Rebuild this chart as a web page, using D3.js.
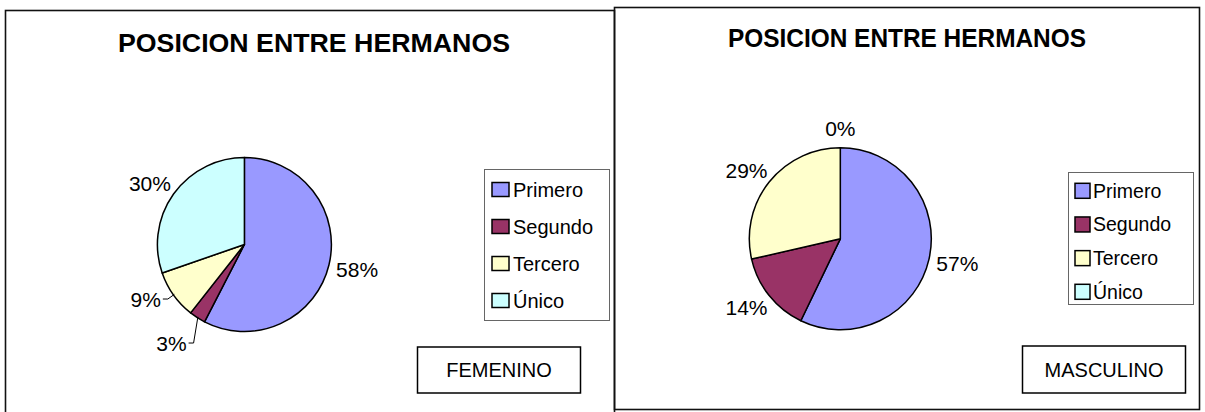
<!DOCTYPE html>
<html>
<head>
<meta charset="utf-8">
<script src="https://cdn.jsdelivr.net/npm/d3@7"></script>
<style>
  body { margin: 0; background: #fff; }
  svg text { font-family: "Liberation Sans", Arial, sans-serif; }
</style>
</head>
<body>
<svg id="chart" width="1205" height="412"></svg>
<script>
// data
var categories = ["Primero", "Segundo", "Tercero", "Único"];
var femeninoValues = [19, 1, 3, 10];
var masculinoValues = [4, 1, 2, 0];
var chartTitle = "POSICION ENTRE HERMANOS";
var groupLabels = ["FEMENINO", "MASCULINO"];
var sliceColors = ["#9999FF", "#993366", "#FFFFCC", "#CCFFFF"];

var svg = d3.select("#chart");

var color = d3.scaleOrdinal().domain(categories).range(sliceColors);

// layout of the two panels
var panels = [
    {values: femeninoValues, label: groupLabels[0],
     frame: {x: 5.5, y: 10.5, w: 609, h: 420},
     title: {x: 314, y: 52, w: 392},
     cx: 244.4, cy: 244.5, r: 87,
     legend: {x: 484.5, y: 169.5, w: 125, h: 151, first: 189.5, last: 300.5, sx: 492, sw: 17, sh: 14, tx: 513, fs: 20},
     box: {x: 417.5, y: 347, w: 163, h: 46}},
    {values: masculinoValues, label: groupLabels[1],
     frame: {x: 614.5, y: 7.5, w: 585, h: 402},
     title: {x: 907, y: 47, w: 358},
     cx: 840.3, cy: 238.8, r: 91,
     legend: {x: 1068.5, y: 172.5, w: 125, h: 132, first: 190.8, last: 291.8, sx: 1075, sw: 15, sh: 15, tx: 1093, fs: 19.5},
     box: {x: 1022.5, y: 346, w: 163, h: 47}}
];

var pie = d3.pie().sort(null).value(function (d) { return d; });

panels.forEach(function (p) {
    var g = svg.append("g");

    g.append("rect")
        .attr("x", p.frame.x).attr("y", p.frame.y)
        .attr("width", p.frame.w).attr("height", p.frame.h)
        .attr("fill", "none").attr("stroke", "#111").attr("stroke-width", 1.6);

    g.append("text")
        .attr("x", p.title.x).attr("y", p.title.y)
        .attr("text-anchor", "middle")
        .attr("font-size", 25).attr("font-weight", "bold")
        .attr("textLength", p.title.w).attr("lengthAdjust", "spacingAndGlyphs")
        .text(chartTitle);

    var total = d3.sum(p.values);
    var arcs = pie(p.values);
    var arc = d3.arc().innerRadius(0).outerRadius(p.r);

    var pg = g.append("g").attr("transform", "translate(" + p.cx + "," + p.cy + ")");

    pg.selectAll("path")
        .data(arcs.filter(function (d) { return d.value > 0; }))
        .enter()
        .append("path")
            .attr("d", arc)
            .attr("fill", function (d) { return color(categories[d.index]); })
            .attr("stroke", "#000")
            .attr("stroke-width", 1.5)
            .attr("stroke-linejoin", "round");

    // percentage labels; small slices get a leader line and are moved down if they collide
    var placedY = [];
    arcs.slice().reverse().forEach(function (d) {
        var pct = d.value / total;
        var a = (d.startAngle + d.endAngle) / 2;
        var s = Math.sin(a), c = Math.cos(a);
        var small = pct > 0 && pct < 0.1;
        var t = pg.append("text")
            .attr("font-size", 21)
            .attr("text-anchor", "middle")
            .text(Math.round(pct * 100) + "%");
        var w = t.node().getComputedTextLength(), h = 22;
        var lx, ly;
        if (small) {
            var e1 = [(p.r - 1) * s, -(p.r - 1) * c];
            var e2 = [(p.r + 7) * s, -(p.r + 7) * c];
            placedY.forEach(function (y) {
                if (Math.abs(e2[1] - y) < 44) e2[1] = y + (c < 0 ? 44 : -44);
            });
            var e3 = [e2[0] + (s < 0 ? -5 : 5), e2[1]];
            pg.append("polyline")
                .attr("points", [e1, e2, e3].map(function (q) { return q.join(","); }).join(" "))
                .attr("fill", "none").attr("stroke", "#000").attr("stroke-width", 1);
            lx = e3[0] + (s < 0 ? -(w / 2 + 2) : (w / 2 + 2));
            ly = e2[1];
            placedY.push(ly);
        } else {
            var R = p.r + 8;
            lx = R * s + s * w / 2;
            ly = -R * c - c * h / 2;
        }
        t.attr("x", lx).attr("y", ly + 7.5);
    });

    // legend
    var L = p.legend;
    g.append("rect")
        .attr("x", L.x).attr("y", L.y).attr("width", L.w).attr("height", L.h)
        .attr("fill", "#fff").attr("stroke", "#666").attr("stroke-width", 1);

    var rowY = d3.scalePoint().domain(categories).range([L.first, L.last]);

    var rows = g.selectAll(".leg")
        .data(categories)
        .enter()
        .append("g");

    rows.append("rect")
        .attr("x", L.sx)
        .attr("y", function (d) { return rowY(d) - L.sh / 2; })
        .attr("width", L.sw).attr("height", L.sh)
        .attr("fill", function (d) { return color(d); })
        .attr("stroke", "#000").attr("stroke-width", 1.5);

    rows.append("text")
        .attr("x", L.tx)
        .attr("y", function (d) { return rowY(d) + 7; })
        .attr("font-size", L.fs)
        .text(function (d) { return d; });

    // group label box
    var B = p.box;
    g.append("rect")
        .attr("x", B.x).attr("y", B.y).attr("width", B.w).attr("height", B.h)
        .attr("fill", "#fff").attr("stroke", "#000").attr("stroke-width", 1.5);
    g.append("text")
        .attr("x", B.x + B.w / 2).attr("y", B.y + B.h / 2 + 7)
        .attr("text-anchor", "middle").attr("font-size", 20)
        .text(p.label);
});
</script>
</body>
</html>
